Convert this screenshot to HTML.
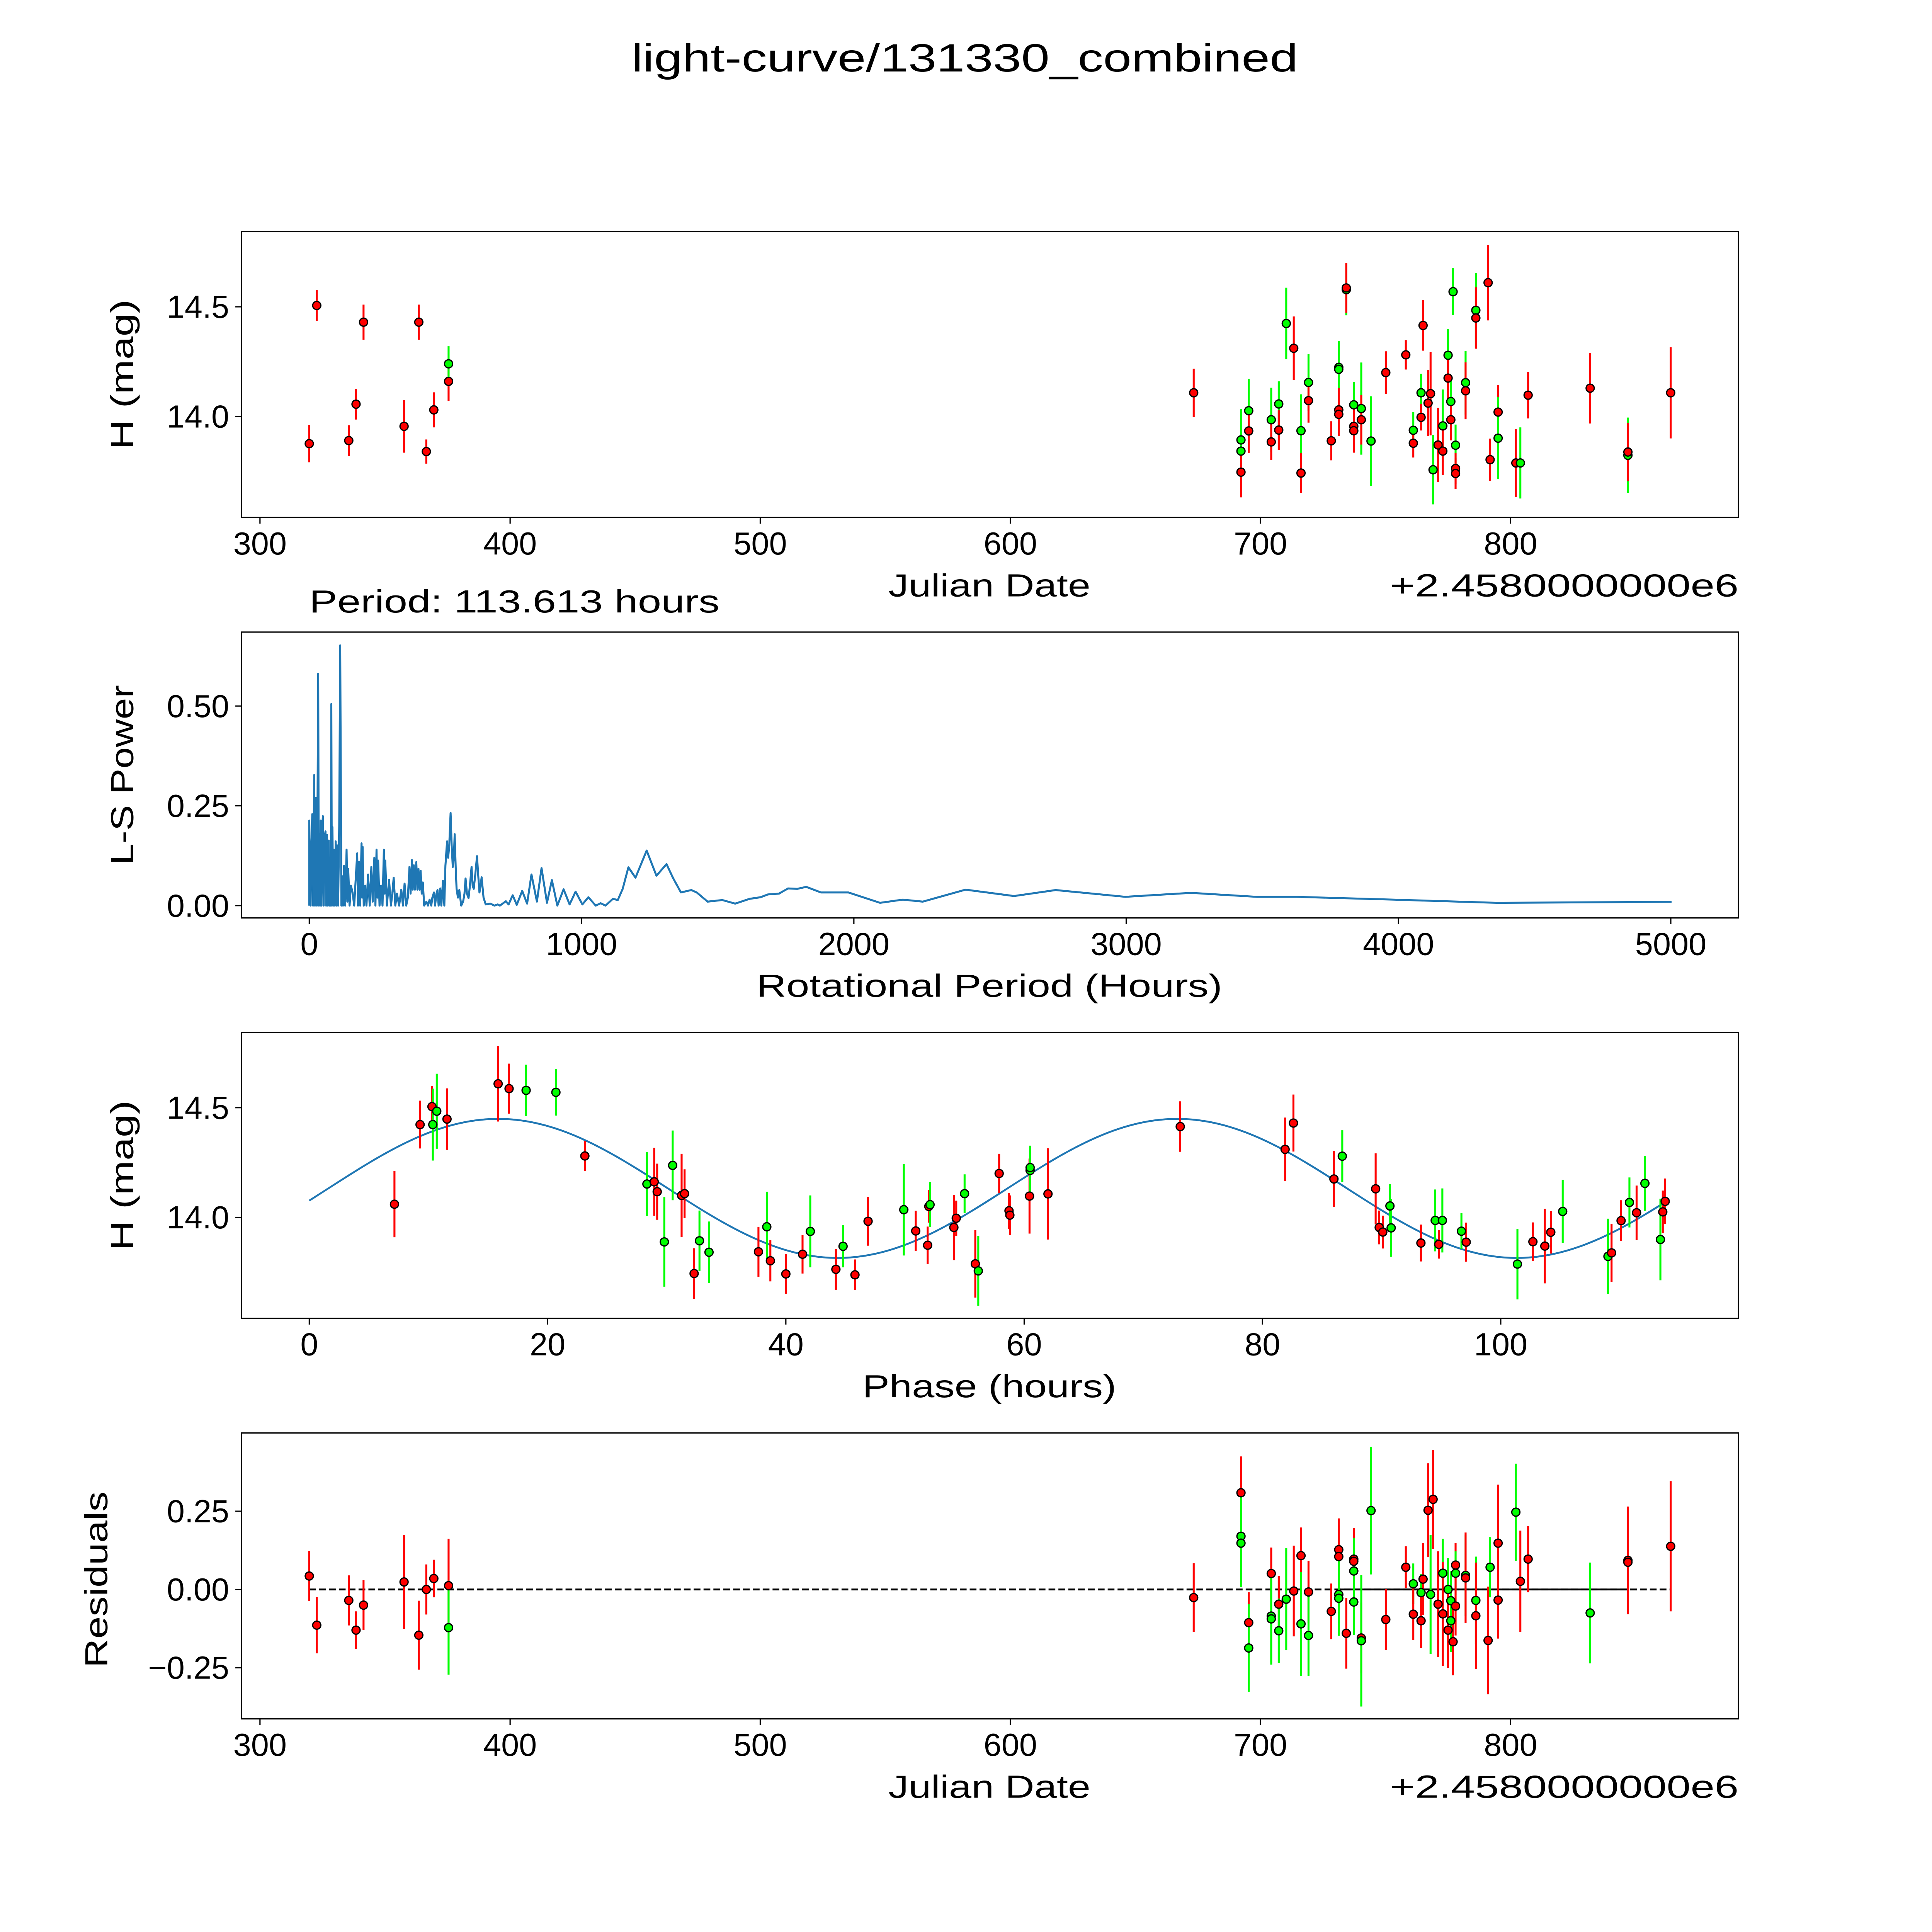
<!DOCTYPE html>
<html><head><meta charset="utf-8"><title>light-curve/131330_combined</title>
<style>html,body{margin:0;padding:0;background:#fff;overflow:hidden;width:100vw;height:100vh}svg{display:block;position:fixed;left:0;top:0;width:100vw;height:100vh}text{font-family:"Liberation Sans","DejaVu Sans",sans-serif;fill:#000}</style>
</head><body>
<svg id="fig" xmlns="http://www.w3.org/2000/svg" viewBox="0 0 1568 1568" preserveAspectRatio="none">
<rect x="0" y="0" width="1568" height="1568" fill="#fff"/>
<text x="783" y="58" font-size="32" text-anchor="middle" textLength="541" lengthAdjust="spacingAndGlyphs">light-curve/131330_combined</text>
<text x="803" y="484" font-size="26" text-anchor="middle" textLength="164" lengthAdjust="spacingAndGlyphs">Julian Date</text>
<text x="1411" y="484" font-size="26" text-anchor="end" textLength="283" lengthAdjust="spacingAndGlyphs">+2.4580000000e6</text>
<text x="251" y="497" font-size="26" text-anchor="start" textLength="333" lengthAdjust="spacingAndGlyphs">Period: 113.613 hours</text>
<text x="803" y="809" font-size="26" text-anchor="middle" textLength="378" lengthAdjust="spacingAndGlyphs">Rotational Period (Hours)</text>
<text x="803" y="1134" font-size="26" text-anchor="middle" textLength="206" lengthAdjust="spacingAndGlyphs">Phase (hours)</text>
<text x="803" y="1459" font-size="26" text-anchor="middle" textLength="164" lengthAdjust="spacingAndGlyphs">Julian Date</text>
<text x="1411" y="1459" font-size="26" text-anchor="end" textLength="283" lengthAdjust="spacingAndGlyphs">+2.4580000000e6</text>
<text transform="translate(108,304) rotate(-90)" font-size="26" text-anchor="middle" textLength="122" lengthAdjust="spacingAndGlyphs">H (mag)</text>
<text transform="translate(108,629) rotate(-90)" font-size="26" text-anchor="middle" textLength="146" lengthAdjust="spacingAndGlyphs">L-S Power</text>
<text transform="translate(108,954) rotate(-90)" font-size="26" text-anchor="middle" textLength="122" lengthAdjust="spacingAndGlyphs">H (mag)</text>
<text transform="translate(87,1282) rotate(-90)" font-size="26" text-anchor="middle" textLength="143" lengthAdjust="spacingAndGlyphs">Residuals</text>
</svg>
<script>
// ---------- data ----------
const lcDates = [319.7,322.7,335.5,338.4,341.4,357.6,363.5,366.5,369.5,375.4,375.4,
673.3,692.2,692.2,692.2,695.3,695.3,704.3,704.3,707.3,707.3,710.3,713.3,716.2,716.2,719.2,719.2,728.3,
731.3,731.3,731.3,731.3,734.3,734.3,737.3,737.3,737.3,740.3,740.3,744.2,750.1,758.1,761.1,761.1,764.2,764.2,
765.0,767.0,768.0,769.0,771.0,772.9,772.9,775.0,775.0,776.1,776.1,777.0,778.0,778.0,778.0,782.0,782.0,
786.1,786.1,791.0,791.8,795.0,795.0,802.1,803.9,807.0,831.8,846.9,846.9,864.0];
const lcMags = [13.876,14.506,13.89,14.056,14.43,13.955,14.43,13.84,14.03,14.16,14.24,
14.108,13.893,13.842,13.746,14.026,13.934,13.985,13.884,14.057,13.938,14.424,14.311,13.935,13.742,14.155,14.072,13.889,
14.224,14.215,14.03,14.01,14.578,14.586,14.053,13.955,13.935,14.036,13.985,13.888,14.2,14.281,13.937,13.878,14.108,13.996,
14.415,14.061,14.104,13.757,13.87,13.957,13.842,14.279,14.175,14.068,13.985,14.569,13.869,13.763,13.74,14.154,14.117,
14.484,14.449,14.61,13.803,14.02,13.901,13.788,13.788,14.097,14.129,13.823,13.838,14.108];
const lcErrs = [0.085,0.07,0.07,0.07,0.08,0.12,0.08,0.055,0.08,0.09,0.08,
0.11,0.14,0.12,0.115,0.146,0.1,0.146,0.083,0.103,0.09,0.163,0.145,0.166,0.09,0.13,0.1,0.089,
0.12,0.12,0.1,0.1,0.117,0.113,0.105,0.1,0.1,0.21,0.113,0.204,0.097,0.067,0.082,0.065,0.087,0.06,
0.115,0.15,0.19,0.158,0.169,0.166,0.11,0.12,0.1,0.1,0.094,0.107,0.094,0.07,0.07,0.145,0.13,
0.17,0.14,0.172,0.096,0.123,0.187,0.155,0.162,0.106,0.161,0.172,0.133,0.208];
const lcBands = "RRRRRRRRRRG"+"RGGRGRGRGRGRGRGRR"+"GGRRGRGRRGRGRRGRGR"+"RRRGRGRGRGRGGRRGR"+"GRRRRGRGRRGRR";

const lsPeriods = [0,0,5,8,11,14,18,21,24.7,28,30,32.8,35,38,40,42,45,47,50,53,56,59.6,62,65,68,71.6,74,77,79,81,83,85,88,91,94,97,100,102.5,106,110,113.6,116,118,120,124,128,132,137,140,143,148,153,159,165,170,176,179,183,187,192,194,196,200,205,210,216,222,228,233,239,243,247,250,253,258,264,269,274,277,279,285,293,300,305,310,316,322,330,338,344,350,356,362,368,372,377,380,384,388,393,397,401,405,409,413,417,422,430,436,442,448,452,458,462,467,471,475,481,485,491,496,500,506,510,514,519,523,527,531,534,538,541,546,551,558,565,570,574,579,585,590,596,600,604,610,616,620,625,629,633,640,648,665,680,692,700,722,732,747,762,782,800,816,836,853,873,891,911,934,956,978,1003,1025,1052,1070,1088,1115,1133,1151,1172,1198,1239,1275,1312,1336,1365,1403,1423,1463,1517,1564,1617,1657,1684,1725,1758,1792,1825,1879,1886,1980,2096,2180,2253,2410,2588,2741,2997,3238,3479,3626,3982,4360,5003];
const lsPower = [0,0.213,0,0.15,0.229,0,0.327,0,0.27,0,0.2,0.581,0,0.18,0,0.213,0,0.19,0.224,0,0.17,0.186,0,0.177,0,0.163,0,0.12,0,0.505,0,0.197,0,0.14,0,0.161,0,0.151,0,0.2,0.652,0.3,0,0.074,0,0.1,0,0.14,0.01,0.092,0,0.05,0.033,0,0.06,0.131,0,0.11,0,0.156,0.02,0.147,0,0.05,0,0.078,0,0.097,0.01,0.12,0,0.14,0.02,0.113,0,0.05,0,0.14,0.03,0.113,0,0.065,0,0.03,0.07,0,0.03,0,0.04,0,0.055,0,0.02,0.097,0.03,0.114,0.04,0.101,0.04,0.109,0.04,0.092,0.04,0.087,0.03,0.058,0,0.01,0,0.015,0,0.02,0.033,0,0.03,0.039,0,0.043,0,0.062,0,0.1,0.161,0.12,0.15,0.232,0.15,0.097,0.12,0.179,0.09,0.042,0.02,0.039,0,0.01,0.03,0.068,0.03,0.019,0.05,0.097,0.05,0.042,0.08,0.124,0.08,0.033,0.05,0.071,0.02,0.003,0.005,0,0.003,0,0.011,0.003,0.026,0.002,0.037,0.005,0.078,0.01,0.094,0.007,0.064,0,0.041,0.003,0.035,0.003,0.021,0,0.006,0,0.017,0.014,0.042,0.096,0.07,0.138,0.075,0.104,0.069,0.033,0.039,0.033,0.01,0.014,0.005,0.017,0.021,0.028,0.03,0.043,0.042,0.047,0.033,0.033,0.033,0.007,0.015,0.01,0.04,0.024,0.039,0.022,0.032,0.022,0.022,0.015,0.007,0.0095];

const phPhases = [7.15,9.3,10.3,10.37,10.7,11.56,15.85,16.77,18.2,20.7,23.13,28.34,28.95,29.2,29.8,30.5,31.25,31.5,32.3,32.75,33.55,37.7,38.4,38.7,40.0,41.4,42.05,44.2,44.8,45.8,46.9,49.9,50.9,51.9,52.0,52.1,54.1,54.3,55.0,55.9,56.15,57.9,
58.73,58.8,60.45,60.5,60.5,62.0,73.1,81.9,82.6,86.0,86.7,89.5,89.8,90.1,90.7,90.8,93.3,94.5,94.8,95.1,96.7,97.1,101.4,102.7,103.7,104.2,105.2,109.0,109.3,110.1,110.8,111.4,112.1,113.4,113.6,113.8];
const phMags = [14.06,14.423,14.505,14.423,14.484,14.448,14.609,14.587,14.579,14.57,14.28,14.152,14.162,14.117,13.888,14.237,14.1,14.108,13.744,13.893,13.841,13.843,13.957,13.802,13.742,13.832,13.936,13.763,13.868,13.738,13.982,14.035,13.938,13.873,14.05,14.058,13.954,13.996,14.108,13.788,13.756,14.2,
14.03,14.01,14.097,14.214,14.227,14.107,14.414,14.31,14.43,14.175,14.279,14.13,13.954,13.933,14.052,13.952,13.883,13.986,13.877,13.986,13.937,13.887,13.787,13.889,13.869,13.932,14.027,13.822,13.838,13.985,14.068,14.021,14.155,13.899,14.025,14.073];
const phErrs = [0.151,0.109,0.095,0.164,0.171,0.14,0.172,0.114,0.117,0.106,0.068,0.146,0.155,0.128,0.204,0.159,0.19,0.111,0.115,0.138,0.14,0.114,0.16,0.094,0.09,0.088,0.164,0.093,0.096,0.07,0.111,0.209,0.092,0.085,0.074,0.103,0.149,0.08,0.088,0.154,0.159,0.09,
0.082,0.09,0.171,0.1,0.1,0.208,0.115,0.145,0.13,0.127,0.118,0.162,0.077,0.075,0.1,0.132,0.084,0.141,0.065,0.146,0.082,0.089,0.161,0.088,0.17,0.097,0.144,0.172,0.133,0.093,0.114,0.124,0.125,0.186,0.097,0.104];
const phBands = "RRRGGRRRGGRGRRGGRRRGGRGRRRGRGRRGRRRGRRGRGR"+"RRRGGRRRRRGRRRGGRGRGGRGRRRGGRRGRGGRR";

const resDates = [319.7,322.7,335.5,338.4,341.4,357.6,363.5,366.5,369.5,375.4,375.4,
673.3,692.2,692.2,692.2,695.3,695.3,704.3,704.3,704.3,707.3,707.3,710.3,713.3,716.2,716.2,719.2,719.2,728.3,
731.3,731.3,731.3,731.3,734.3,737.3,737.3,737.3,737.3,740.3,740.3,744.2,750.1,758.1,761.1,761.1,764.2,764.2,
765.0,767.0,768.0,769.0,771.0,772.9,772.9,775.0,775.0,776.1,776.1,777.0,778.0,778.0,778.0,782.0,782.0,
786.1,786.1,791.0,791.8,795.0,795.0,802.1,803.9,807.0,831.8,846.9,846.9,864.0];
const resVals = [0.043,-0.114,-0.035,-0.13,-0.05,0.024,-0.146,0.0,0.035,0.012,-0.122,
-0.026,0.309,0.17,0.148,-0.106,-0.187,0.051,-0.085,-0.094,-0.047,-0.132,-0.031,-0.005,0.108,-0.11,-0.008,-0.147,-0.07,
0.127,0.105,-0.016,-0.028,-0.14,0.097,0.09,0.059,-0.04,-0.155,-0.164,0.252,-0.096,0.071,0.018,-0.079,-0.01,-0.1,
0.033,0.253,-0.016,0.288,-0.047,0.052,-0.078,0.0,-0.13,-0.036,-0.1,-0.167,0.078,0.052,-0.053,0.045,0.037,
-0.035,-0.084,-0.163,0.071,0.148,-0.034,0.247,0.026,0.097,-0.075,0.093,0.087,0.138];
const resErrs = [0.08,0.09,0.08,0.06,0.08,0.15,0.11,0.08,0.06,0.15,0.15,
0.11,0.116,0.14,0.14,0.097,0.14,0.083,0.146,0.146,0.09,0.103,0.163,0.145,0.09,0.166,0.1,0.13,0.089,
0.1,0.1,0.12,0.12,0.113,0.1,0.1,0.105,0.105,0.113,0.21,0.204,0.097,0.067,0.065,0.082,0.06,0.087,
0.115,0.15,0.19,0.158,0.169,0.11,0.166,0.1,0.12,0.094,0.1,0.107,0.07,0.07,0.094,0.13,0.145,
0.14,0.17,0.172,0.096,0.187,0.123,0.155,0.162,0.106,0.161,0.172,0.133,0.208];
const resBands = "RRRRRRRRRRG"+"RRGGRGRGGRGGRRGRGR"+"RRGGRRRGGRGGRRGRG"+"RRRGRRGRGRGGRRGRG"+"RGRRGRRGRRGRR";

// model: mean, amplitude, half-period, peak phase, span
const modelParams = [14.132, 0.317, 57.0, 15.85, 113.6];
const lcTicksX = [300,400,500,600,700,800];
const magTicks = [14.0,14.5];
const magTickLabels = ["14.0","14.5"];
const lsTicksX = [0,1000,2000,3000,4000,5000];
const lsTicksY = [0,0.25,0.5];
const lsTickLabels = ["0.00","0.25","0.50"];
const phTicksX = [0,20,40,60,80,100];
const resTicksY = [-0.25,0,0.25];
const resTickLabels = ["\u22120.25","0.00","0.25"];

// ---------- axes ----------
const NS="http://www.w3.org/2000/svg";
const svg=document.getElementById('fig');
const L=196,R=1411;
const xDate=d=>211+(d-300)*2.03;
const yMag1=m=>338-(m-14)*178;
const xLS=p=>251+p*0.221;
const yLS=v=>735-v*324;
const xPh=p=>251+p*9.67;
const yMag3=m=>988-(m-14)*178;
const yRes=r=>1290-r*254;

function mk(tag,attrs,parent){const e=document.createElementNS(NS,tag);for(const k in attrs)e.setAttribute(k,attrs[k]);(parent||svg).appendChild(e);return e;}

function frame(top,bot,name){
  const r=mk('rect',{x:L,y:top,width:R-L,height:bot-top,fill:'none',stroke:'#000','stroke-width':1});
  
  
}
function xticks(vals,fx,bot,labY,name,fmt){
  vals.forEach((v,i)=>{
    const l=mk('line',{x1:fx(v),x2:fx(v),y1:bot,y2:bot+5,stroke:'#000','stroke-width':1});
    
    
    const t=mk('text',{x:fx(v),y:labY+9,'font-size':26,'text-anchor':'middle'});
    t.textContent=fmt?fmt(v):String(v);
    
    
  });
}
function yticks(vals,labels,fy,name){
  vals.forEach((v,i)=>{
    const l=mk('line',{x1:L-5,x2:L,y1:fy(v),y2:fy(v),stroke:'#000','stroke-width':1});
    
    
    const t=mk('text',{x:L-10,y:fy(v)+9,'font-size':26,'text-anchor':'end'});
    t.textContent=labels[i];
    
    
  });
}
function points(xs,ys,es,bands,fx,fy,g,name){
  for(let i=0;i<xs.length;i++){
    const c=bands[i]==='G'?'#00ff00':'#ff0000';
    const x=fx(xs[i]);
    const b=mk('line',{x1:x,x2:x,y1:fy(ys[i]+es[i]),y2:fy(ys[i]-es[i]),stroke:c,'stroke-width':1.6},g);
    
    
  }
  for(let i=0;i<xs.length;i++){
    const c=bands[i]==='G'?'#00ff00':'#ff0000';
    const p=mk('circle',{cx:fx(xs[i]),cy:fy(ys[i]),r:3.3,fill:c,stroke:'#000','stroke-width':1},g);
    
    
  }
}

// Panel 1
frame(188,420,'lightcurve');
xticks(lcTicksX,xDate,420,441,'lightcurve');
yticks(magTicks,magTickLabels,yMag1,'lightcurve');
const g1=mk('g',{});


points(lcDates,lcMags,lcErrs,lcBands,xDate,yMag1,g1,'lightcurve');

// Panel 2
frame(513,745,'periodogram');
xticks(lsTicksX,xLS,745,766,'periodogram');
yticks(lsTicksY,lsTickLabels,yLS,'periodogram');
let d='';
lsPeriods.forEach((p,i)=>{d+=(i?'L':'M')+xLS(p).toFixed(2)+' '+yLS(lsPower[i]).toFixed(2);});
const pl=mk('path',{d:d,fill:'none',stroke:'#1f77b4','stroke-width':1.6,'stroke-linejoin':'round'});



// Panel 3
frame(838,1070,'phase');
xticks(phTicksX,xPh,1070,1091,'phase');
yticks(magTicks,magTickLabels,yMag3,'phase');
let md='';
for(let k=0;k<=400;k++){const p=modelParams[4]*k/400;const m=modelParams[0]+modelParams[1]*Math.cos(2*Math.PI*(p-modelParams[3])/modelParams[2]);md+=(k?'L':'M')+xPh(p).toFixed(2)+' '+yMag3(m).toFixed(2);}
const ml=mk('path',{d:md,fill:'none',stroke:'#1f77b4','stroke-width':1.5});


const g3=mk('g',{});


points(phPhases,phMags,phErrs,phBands,xPh,yMag3,g3,'phase');

// Panel 4
frame(1163,1395,'residuals');
xticks(lcTicksX,xDate,1395,1416,'residuals');
yticks(resTicksY,resTickLabels,yRes,'residuals');
const dl=mk('line',{x1:xDate(resDates[0]),x2:xDate(resDates[resDates.length-1]),y1:yRes(0),y2:yRes(0),stroke:'#000','stroke-width':1.5,'stroke-dasharray':'5.5,2.5'});


const sl=mk('line',{x1:xDate(731.3),x2:xDate(846.9),y1:yRes(0),y2:yRes(0),stroke:'#000','stroke-width':1.5});


const g4=mk('g',{});


points(resDates,resVals,resErrs,resBands,xDate,yRes,g4,'residual');
</script>
</body></html>
